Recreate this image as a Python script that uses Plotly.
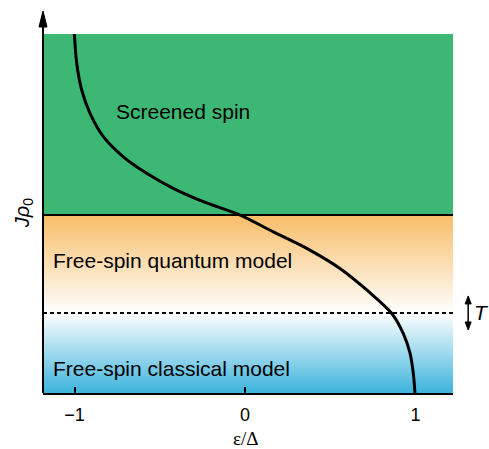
import plotly.graph_objects as go

# ---- data ----
eps = [-1.001, -0.987, -0.958, -0.909, -0.831, -0.714, -0.577, -0.421, -0.245,
       -0.035, 0.166, 0.362, 0.557, 0.714, 0.860, 0.928, 0.968, 0.987, 0.997]
jrho = [1.000, 0.918, 0.844, 0.779, 0.714, 0.658, 0.612, 0.570, 0.533,
        0.497, 0.449, 0.403, 0.347, 0.287, 0.222, 0.166, 0.111, 0.055, 0.000]
x_ticks = [-1, 0, 1]
x_ticklabels = ["\u22121", "0", "1"]
J_boundary = 0.496      # screened / free-spin boundary
T_level = 0.223         # temperature scale (dotted line)
x_min, x_max = -1.185, 1.22
y_min, y_max = 0.0, 1.0
region_labels = ["Screened spin", "Free-spin quantum model", "Free-spin classical model"]
region_label_pos = [(-0.768, 0.783), (-1.138, 0.370), (-1.138, 0.069)]

GREEN = "#3cb874"
ORANGE = "#f9bd68"
BLUE = "#3db3dc"
SANS = "Liberation Sans, Arial, Helvetica, sans-serif"
SERIF = "Liberation Serif, Times New Roman, serif"

fig = go.Figure()

# blue -> white gradient (classical region)
fig.add_trace(go.Scatter(
    x=[x_min, x_max, x_max, x_min, x_min], y=[y_min, y_min, T_level, T_level, y_min],
    mode="none", fill="toself",
    fillgradient=dict(type="vertical", colorscale=[[0, BLUE], [1, "#ffffff"]],
                      start=y_min, stop=T_level),
    hoverinfo="skip", showlegend=False))
# white -> orange gradient (quantum region)
fig.add_trace(go.Scatter(
    x=[x_min, x_max, x_max, x_min, x_min], y=[T_level, T_level, J_boundary, J_boundary, T_level],
    mode="none", fill="toself",
    fillgradient=dict(type="vertical", colorscale=[[0, "#ffffff"], [1, ORANGE]],
                      start=T_level, stop=J_boundary),
    hoverinfo="skip", showlegend=False))
# green region
fig.add_trace(go.Scatter(
    x=[x_min, x_max, x_max, x_min, x_min], y=[J_boundary, J_boundary, y_max, y_max, J_boundary],
    mode="none", fill="toself", fillcolor=GREEN,
    hoverinfo="skip", showlegend=False))

# boundary line
fig.add_trace(go.Scatter(x=[x_min, x_max], y=[J_boundary, J_boundary], mode="lines",
                         line=dict(color="black", width=2), hoverinfo="skip", showlegend=False))
# dotted T line
fig.add_trace(go.Scatter(x=[x_min, x_max], y=[T_level, T_level], mode="lines",
                         line=dict(color="black", width=2, dash="4px,3px"),
                         hoverinfo="skip", showlegend=False))
# curve
fig.add_trace(go.Scatter(x=eps, y=jrho, mode="lines",
                         line=dict(color="black", width=3, shape="spline", smoothing=0.9),
                         hoverinfo="skip", showlegend=False))

annotations = []
for txt, (ax_, ay_) in zip(region_labels, region_label_pos):
    annotations.append(dict(x=ax_, y=ay_, xref="x", yref="y", text=txt, showarrow=False,
                            xanchor="left", yanchor="middle",
                            font=dict(family=SANS, size=21, color="black")))
# axis titles
annotations.append(dict(x=0, y=-0.128, xref="x", yref="paper", text="\u03b5/\u0394",
                        showarrow=False, xanchor="center", yanchor="middle",
                        font=dict(family=SERIF, size=19, color="black")))
annotations.append(dict(x=-0.047, y=0.50, xref="paper", yref="paper",
                        text="<i>J\u03c1</i><sub>0</sub>", textangle=-90,
                        showarrow=False, xanchor="center", yanchor="middle",
                        font=dict(family=SANS, size=20, color="black")))
annotations.append(dict(x=1.07, y=T_level, xref="paper", yref="paper", text="<i>T</i>",
                        showarrow=False, xanchor="center", yanchor="middle",
                        font=dict(family=SANS, size=21, color="black")))

def to_paper(y):
    return (y - y_min) / (y_max - y_min)

shapes = [
    # y axis line
    dict(type="line", xref="paper", yref="paper", x0=0, x1=0, y0=0, y1=1.02,
         line=dict(color="black", width=2)),
    # y axis arrowhead
    dict(type="path", xref="paper", yref="paper", xsizemode="pixel", ysizemode="pixel",
         xanchor=0, yanchor=1, path="M -4,7 L 0,23 L 4,7 Z",
         fillcolor="black", line=dict(color="black", width=1)),
    # T double arrow
    dict(type="line", xref="paper", yref="paper", x0=1.037, x1=1.037,
         y0=to_paper(T_level) - 0.035, y1=to_paper(T_level) + 0.035,
         line=dict(color="black", width=1.5)),
    dict(type="path", xref="paper", yref="paper", xsizemode="pixel", ysizemode="pixel",
         xanchor=1.037, yanchor=to_paper(T_level), path="M -3,9 L 0,17 L 3,9 Z",
         fillcolor="black", line=dict(color="black", width=1)),
    dict(type="path", xref="paper", yref="paper", xsizemode="pixel", ysizemode="pixel",
         xanchor=1.037, yanchor=to_paper(T_level), path="M -3,-9 L 0,-17 L 3,-9 Z",
         fillcolor="black", line=dict(color="black", width=1)),
]

fig.update_layout(
    width=489, height=449,
    margin=dict(l=43, r=36, t=34, b=56),
    paper_bgcolor="white", plot_bgcolor="white",
    showlegend=False,
    annotations=annotations,
    shapes=shapes,
    xaxis=dict(range=[x_min, x_max], tickvals=x_ticks, ticktext=x_ticklabels,
               ticks="inside", ticklen=6, tickwidth=1.5, tickcolor="black",
               showline=True, linecolor="black", linewidth=2,
               showgrid=False, zeroline=False, ticklabelstandoff=4,
               tickfont=dict(family=SANS, size=18, color="black")),
    yaxis=dict(range=[y_min, y_max], showticklabels=False, ticks="", showline=False,
               showgrid=False, zeroline=False),
)

fig.write_html("out.html")
